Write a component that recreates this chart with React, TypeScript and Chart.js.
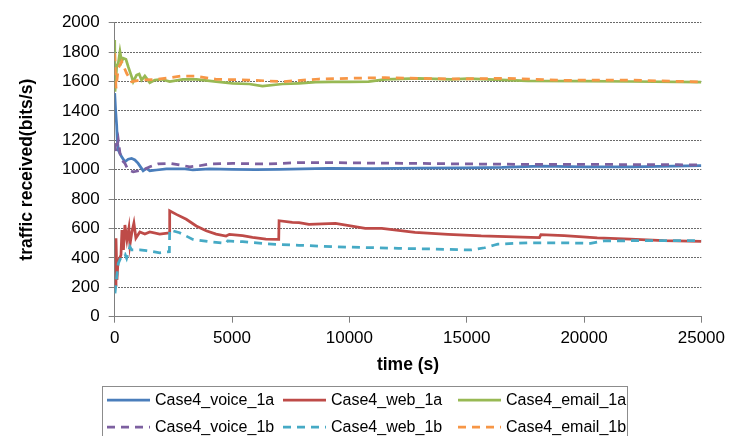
import React, { useEffect, useRef } from "react";
import { Chart, registerables } from "chart.js";

Chart.register(...registerables);

// ---- data (time in seconds, traffic in bits/s) ----
const xTickStep = 5000;
const yTickStep = 200;
const xMax = 25000;
const yMax = 2000;

const voice1aT = [0, 40, 85, 110, 153, 297, 436, 576, 720, 860, 1000, 1144, 1212, 1356, 1496, 1780, 2203, 3000, 3331, 4038, 5000, 6000, 7000, 8000, 9123, 11000, 13000, 15000, 16500, 18161, 20000, 22000, 25000];
const voice1aV = [1521, 1400, 1300, 1202, 1134, 1088, 1054, 1071, 1077, 1066, 1043, 1009, 993, 1009, 993, 998, 1005, 1005, 998, 1005, 1003, 1000, 1003, 1005, 1009, 1007, 1010, 1012, 1015, 1025, 1020, 1020, 1027];

const web1aT = [13, 55, 97, 140, 267, 309, 373, 436, 521, 606, 648, 733, 818, 903, 1072, 1284, 1496, 1919, 2330, 2343, 2627, 3051, 3475, 3898, 4322, 4746, 4886, 5449, 5873, 6441, 6990, 7004, 7568, 7852, 8275, 9407, 10678, 11381, 12797, 14208, 15619, 17737, 18100, 18161, 19153, 20564, 21975, 23390, 25000];
const web1aV = [215, 534, 250, 371, 420, 590, 454, 624, 522, 603, 488, 576, 637, 535, 576, 562, 576, 562, 571, 721, 696, 663, 617, 585, 562, 549, 560, 551, 540, 528, 526, 653, 642, 640, 628, 635, 601, 601, 574, 560, 549, 540, 538, 558, 551, 537, 528, 517, 513];

const email1aT = [0, 13, 85, 153, 225, 297, 364, 479, 576, 720, 788, 932, 1042, 1144, 1284, 1496, 1708, 1992, 2343, 2907, 3475, 4322, 5025, 5733, 6297, 7144, 7852, 8559, 9263, 10000, 10818, 11525, 12936, 14347, 15055, 17597, 20000, 22000, 25000];
const email1aV = [1882, 1531, 1701, 1724, 1803, 1735, 1758, 1751, 1701, 1633, 1599, 1644, 1651, 1610, 1637, 1592, 1610, 1615, 1599, 1615, 1615, 1599, 1588, 1583, 1569, 1583, 1588, 1595, 1597, 1597, 1599, 1615, 1622, 1615, 1619, 1605, 1603, 1600, 1595];

const voice1bT = [0, 55, 153, 225, 297, 436, 576, 788, 1212, 1496, 1847, 2343, 2767, 3200, 3614, 4038, 5025, 6441, 7852, 9263, 11000, 13000, 14500, 16000, 18000, 20000, 22000, 24000, 25000];
const voice1bV = [1180, 1122, 1202, 1111, 1066, 1043, 998, 986, 998, 1020, 1039, 1043, 1032, 1020, 1027, 1039, 1043, 1039, 1048, 1048, 1045, 1043, 1040, 1038, 1036, 1036, 1035, 1034, 1032];

const web1bT = [13, 85, 153, 297, 436, 508, 648, 720, 1072, 1356, 1919, 2330, 2343, 2767, 3331, 4038, 4746, 4814, 5449, 6864, 7852, 9263, 12089, 14208, 15195, 15763, 16186, 16326, 17737, 19153, 20280, 20847, 21975, 25000];
const web1bV = [159, 272, 363, 413, 426, 397, 476, 454, 454, 449, 435, 442, 590, 571, 526, 510, 499, 515, 510, 492, 486, 476, 465, 458, 454, 469, 488, 494, 503, 503, 499, 515, 517, 517];

const email1bT = [0, 55, 153, 297, 508, 720, 1072, 1847, 2839, 3403, 4322, 5733, 7144, 8699, 10110, 11525, 12936, 14347, 16750, 19008, 21835, 25000];
const email1bV = [1792, 1554, 1690, 1735, 1656, 1599, 1610, 1615, 1637, 1637, 1615, 1610, 1599, 1617, 1622, 1626, 1622, 1617, 1622, 1608, 1610, 1597];

const labels = ["Case4_voice_1a", "Case4_web_1a", "Case4_email_1a", "Case4_voice_1b", "Case4_web_1b", "Case4_email_1b"];
const times = [voice1aT, web1aT, email1aT, voice1bT, web1bT, email1bT];
const values = [voice1aV, web1aV, email1aV, voice1bV, web1bV, email1bV];
const colors = ["#4A7EBB", "#BE4B48", "#98B954", "#7D60A0", "#46AAC5", "#F79646"];
const dashed = [false, false, false, true, true, true];

const FONT = '"Liberation Sans", Arial, sans-serif';
const DASH = [8, 6];
const LINE_W = 2.75;

const boxLegend = {
  id: "boxLegend",
  afterDraw(chart: any) {
    const ctx = chart.ctx as CanvasRenderingContext2D;
    ctx.save();
    ctx.setLineDash([]);
    ctx.strokeStyle = "#8c8c8c";
    ctx.lineWidth = 1;
    ctx.strokeRect(102.5, 386.5, 525, 60);
    const cols = [107, 283, 458];
    const rows = [400, 427];
    ctx.font = `16px ${FONT}`;
    ctx.textBaseline = "middle";
    ctx.textAlign = "left";
    chart.data.datasets.forEach((ds: any, i: number) => {
      const x = cols[i % 3];
      const y = rows[Math.floor(i / 3)];
      ctx.strokeStyle = ds.borderColor;
      ctx.lineWidth = LINE_W;
      ctx.setLineDash(ds.borderDash || []);
      ctx.beginPath();
      ctx.moveTo(x, y);
      ctx.lineTo(x + 43, y);
      ctx.stroke();
      ctx.setLineDash([]);
      ctx.fillStyle = "#000";
      ctx.fillText(ds.label, x + 48, y + 1);
    });
    ctx.restore();
  },
};

export default function App() {
  const ref = useRef<HTMLCanvasElement | null>(null);

  useEffect(() => {
    if (!ref.current) return;
    const datasets = labels.map((label, i) => ({
      label,
      data: times[i].map((t, j) => ({ x: t, y: values[i][j] })),
      borderColor: colors[i],
      backgroundColor: colors[i],
      borderWidth: LINE_W,
      borderDash: dashed[i] ? DASH : [],
      pointRadius: 0,
      tension: 0,
      fill: false,
      order: labels.length - i,
    }));
    const chart = new Chart(ref.current, {
      type: "line",
      data: { datasets },
      plugins: [boxLegend],
      options: {
        animation: false,
        responsive: false,
        maintainAspectRatio: false,
        layout: { padding: { left: 0, right: 25.5, top: 22.7, bottom: 0 } },
        plugins: { legend: { display: false }, tooltip: { enabled: false } },
        scales: {
          x: {
            type: "linear",
            min: 0,
            max: xMax,
            ticks: {
              stepSize: xTickStep,
              color: "#000",
              font: { family: FONT, size: 17 },
              padding: 5,
              maxRotation: 0,
              autoSkip: false,
              callback: (v: any) => String(v),
            },
            grid: { drawOnChartArea: false, drawTicks: true, tickLength: 6, color: "#7f7f7f", tickColor: "#7f7f7f" },
            border: { color: "#7f7f7f", width: 1 },
            title: {
              display: true,
              text: "time (s)",
              color: "#000",
              font: { family: FONT, size: 17.5, weight: "bold" },
              padding: { top: 0, bottom: 60.5 },
            },
            afterFit: (s: any) => {
              s.height = 119.3;
            },
          },
          y: {
            min: 0,
            max: yMax,
            ticks: {
              stepSize: yTickStep,
              color: "#000",
              font: { family: FONT, size: 17 },
              padding: 9,
              callback: (v: any) => String(v),
            },
            grid: { color: "#6a6a6a", lineWidth: 1, tickLength: 6, tickColor: "#7f7f7f", tickBorderDash: [] },
            border: { color: "#7f7f7f", width: 1, dash: [2, 1] },
            title: {
              display: true,
              text: "traffic received(bits/s)",
              color: "#000",
              font: { family: FONT, size: 17.5, weight: "bold" },
              padding: { top: 17, bottom: 0 },
            },
            afterFit: (s: any) => {
              s.width = 114.7;
            },
          },
        },
      } as any,
    });
    return () => chart.destroy();
  }, []);

  return (
    <div style={{ position: "fixed", left: 0, top: 0, width: 730, height: 436, background: "#fff" }}>
      <canvas ref={ref} width={730} height={436} style={{ display: "block", width: 730, height: 436 }} />
    </div>
  );
}
